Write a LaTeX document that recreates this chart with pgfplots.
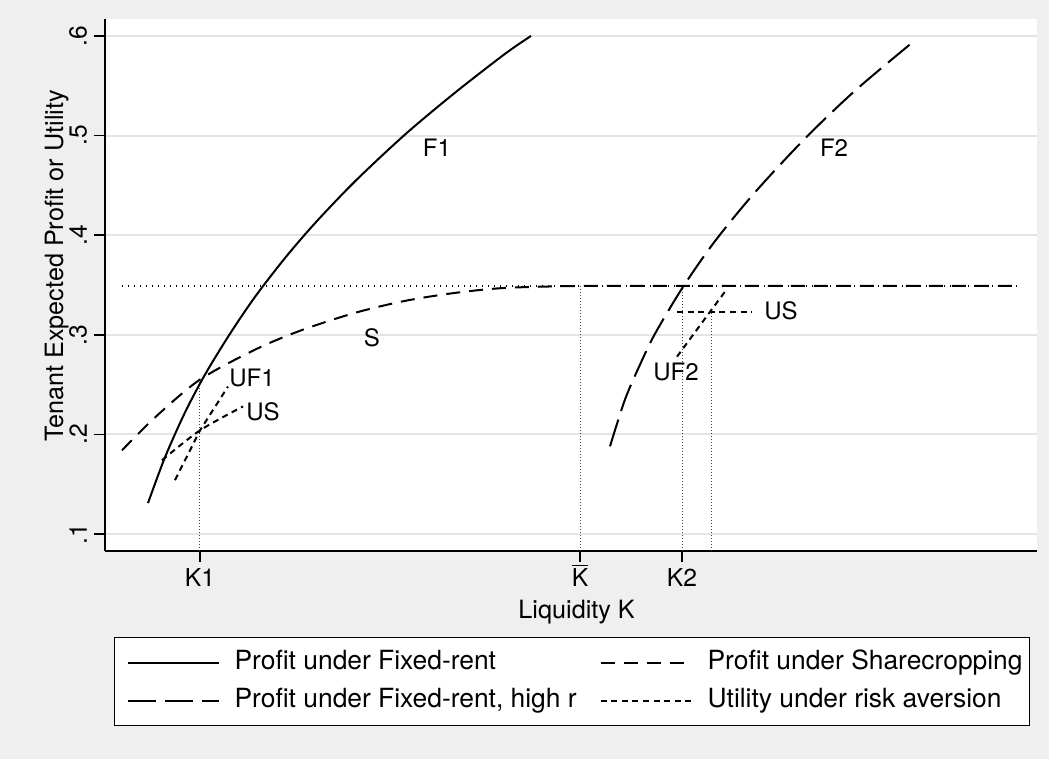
\documentclass[border=0pt]{standalone}
\usepackage{pgfplots}
\pgfplotsset{compat=1.18}
\usepackage{fontspec}
\setmainfont{TeX Gyre Heros}
\definecolor{bg}{RGB}{239,239,239}
\definecolor{gridc}{RGB}{228,228,228}
\newcommand{\Kbar}{{\setbox0\hbox{K}\rlap{\raisebox{10.5pt}{\rule{\wd0}{0.6pt}}}K}}
\newcommand{\lf}{\fontsize{12}{14}\selectfont}
\newcommand{\tf}{\fontsize{12.3}{14}\selectfont}
\newcommand{\af}{\fontsize{12.6}{14}\selectfont}
\begin{document}
\begin{tikzpicture}
\fill[bg] (-52.5pt,-104pt) rectangle (472pt,275.5pt);
\begin{axis}[
  scale only axis, width=466pt, height=266pt,
  xmin=0, xmax=9.32, ymin=0.0829, ymax=0.617,
  axis background/.style={fill=white},
  axis x line*=bottom, axis y line*=left,
  axis line style={line width=0.8pt, black},
  tick align=outside, major tick length=5.5pt,
  tick style={line width=0.8pt, black},
  xtick={0.95,4.75,5.77}, xticklabels={K1,\Kbar,K2},
  ytick={0.1,0.2,0.3,0.4,0.5,0.6}, yticklabels={.1,.2,.3,.4,.5,.6},
  ymajorgrids, grid style={gridc, line width=1pt},
  tick label style={font=\tf},
  label style={font=\af},
  xticklabel style={anchor=base, yshift=-12.5pt},
  yticklabel style={rotate=90, anchor=south},
  xlabel={Liquidity K}, ylabel={Tenant Expected Profit or Utility},
  xlabel style={at={(axis description cs:0.506,-0.126)}, anchor=base},
  ylabel style={at={(axis description cs:-0.052,0.536)}, anchor=center},
  legend columns=2,
  legend cell align=left,
  legend image code/.code={\path (0pt,0pt); \draw[#1] (3pt,0pt) -- (48.5pt,0pt);},
  legend style={
    at={(axis description cs:0.00966,-0.1617)}, anchor=north west,
    draw=black, line width=0.6pt, fill=white,
    font=\fontsize{13.2}{15}\selectfont,
    inner xsep=3pt, inner ysep=6.25pt,
    row sep=6.5pt,
    nodes={inner sep=0pt, text height=9.5pt, text depth=3pt, anchor=west},
    /tikz/every odd column/.append style={column sep=7.5pt},
    /tikz/every even column/.append style={column sep=7.5pt},
  },
]
% reference dotted lines
\addplot[forget plot, black, line width=0.6pt, dash pattern=on 0.5pt off 2.5pt] coordinates {(0.17,0.349) (9.15,0.349)};
\addplot[forget plot, black!75, line width=0.5pt, dash pattern=on 0.5pt off 1pt] coordinates {(0.95,0.0829) (0.95,0.255)};
\addplot[forget plot, black!75, line width=0.5pt, dash pattern=on 0.5pt off 1pt] coordinates {(4.75,0.0829) (4.75,0.349)};
\addplot[forget plot, black!75, line width=0.5pt, dash pattern=on 0.5pt off 1pt] coordinates {(5.77,0.0829) (5.77,0.349)};
\addplot[forget plot, black!75, line width=0.5pt, dash pattern=on 0.5pt off 1pt] coordinates {(6.06,0.0829) (6.06,0.323)};
% F1
\addplot[black, line width=1pt, smooth] coordinates {(0.43,0.131) (0.6,0.177) (0.8,0.222) (1.0,0.260) (1.25,0.301) (1.5,0.338) (1.8,0.377) (2.1,0.412) (2.5,0.454) (3.0,0.501) (3.5,0.543) (4.0,0.582) (4.26,0.600)};
\addlegendentry{\makebox[172pt][l]{Profit under Fixed-rent}}
% S
\addplot[black, line width=1pt, dash pattern=on 7pt off 4.5pt, smooth] coordinates {(0.17,0.184) (0.5,0.217) (0.95,0.255) (1.5,0.285) (1.95,0.304) (2.5,0.322) (3.0,0.334) (3.5,0.342) (4.0,0.347) (4.75,0.349) (5.5,0.349) (9.15,0.349)};
\addlegendentry{\makebox[158pt][l]{Profit under Sharecropping}}
% F2
\addplot[black, line width=1pt, dash pattern=on 14pt off 4.5pt, smooth] coordinates {(5.05,0.188) (5.2,0.235) (5.35,0.270) (5.5,0.301) (5.78,0.348) (6.1,0.394) (6.5,0.443) (7.0,0.497) (7.5,0.545) (8.08,0.594)};
\addlegendentry{\makebox[172pt][l]{Profit under Fixed-rent, high r}}
% Utility
\addplot[black, line width=1pt, dash pattern=on 3pt off 2.3pt] coordinates {(0.70,0.154) (0.95,0.204) (1.23,0.248)};
\addlegendentry{\makebox[158pt][l]{Utility under risk aversion}}
\addplot[forget plot, black, line width=1pt, dash pattern=on 3pt off 2.3pt, smooth] coordinates {(0.57,0.174) (0.95,0.204) (1.38,0.228)};
\addplot[forget plot, black, line width=1pt, dash pattern=on 3pt off 2.3pt] coordinates {(5.72,0.278) (6.05,0.323) (6.22,0.346)};
\addplot[forget plot, black, line width=1pt, dash pattern=on 3pt off 2.3pt] coordinates {(5.72,0.323) (6.47,0.323)};
% labels
\node[font=\lf] at (axis cs:3.32,0.488) {F1};
\node[font=\lf] at (axis cs:7.29,0.488) {F2};
\node[font=\lf] at (axis cs:2.67,0.297) {S};
\node[font=\lf] at (axis cs:1.47,0.257) {UF1};
\node[font=\lf] at (axis cs:1.58,0.2225) {US};
\node[font=\lf] at (axis cs:6.76,0.324) {US};
\node[font=\lf] at (axis cs:5.71,0.263) {UF2};
\end{axis}
\pgfresetboundingbox
\path[use as bounding box] (-52.5pt,-104pt) rectangle (472pt,275.5pt);
\end{tikzpicture}
\end{document}
